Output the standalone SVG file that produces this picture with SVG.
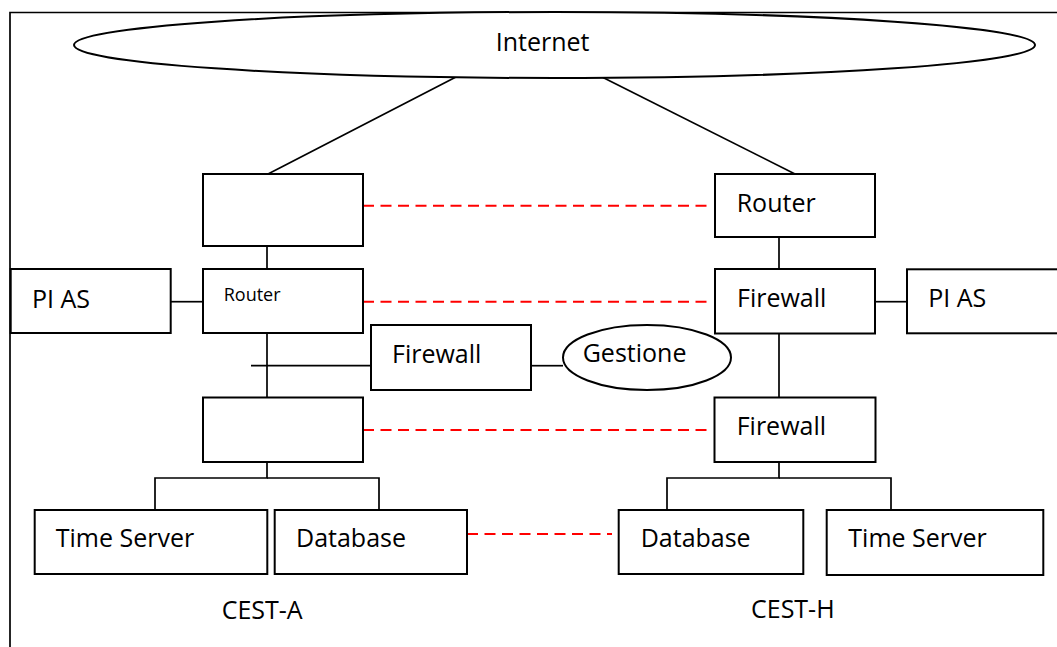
<svg xmlns="http://www.w3.org/2000/svg" width="1057" height="647" viewBox="0 0 1057 647">
  <style>
    .box { fill: #ffffff; stroke: #000000; stroke-width: 2; }
    .link { fill: none; stroke: #000000; stroke-width: 1.7; }
    .peer { fill: none; stroke: #ff0000; stroke-width: 2; stroke-dasharray: 11 6.5; }
    .lbl { font-family: "Open Sans", "Liberation Sans", sans-serif; font-size: 25px; fill: #000000; }
    .small { font-size: 18px; }
  </style>

  <rect width="1057" height="647" fill="#ffffff"/>

  <!-- outer frame (left and top edges visible) -->
  <path id="frame" d="M1060,12.5 H10 V650" class="link"/>

  <!-- connectors -->
  <g id="connectors">
    <!-- uplinks to the Internet -->
    <line class="link" x1="268" y1="174" x2="456" y2="77"/>
    <line class="link" x1="603" y1="77.5" x2="795" y2="174"/>
    <!-- CEST-A chain -->
    <line class="link" x1="267" y1="238" x2="267" y2="269"/>
    <line class="link" x1="171" y1="301.7" x2="203" y2="301.7"/>
    <line class="link" x1="267" y1="333" x2="267" y2="397.5"/>
    <line class="link" x1="251" y1="365.7" x2="371" y2="365.7"/>
    <line class="link" x1="531" y1="365.7" x2="563" y2="365.7"/>
    <polyline class="link" points="267,462 267,478 155,478 155,510"/>
    <polyline class="link" points="267,478 379,478 379,510"/>
    <!-- CEST-H chain -->
    <line class="link" x1="779" y1="237" x2="779" y2="269"/>
    <line class="link" x1="875" y1="301.7" x2="907" y2="301.7"/>
    <line class="link" x1="779" y1="333.5" x2="779" y2="397.5"/>
    <polyline class="link" points="779,462 779,478 667,478 667,510"/>
    <polyline class="link" points="779,478 891,478 891,510"/>
    <!-- site-to-site peering -->
    <line class="peer" x1="363" y1="205.7" x2="710" y2="205.7"/>
    <line class="peer" x1="363" y1="301.7" x2="710" y2="301.7"/>
    <line class="peer" x1="363" y1="430" x2="710" y2="430"/>
    <line class="peer" x1="467" y1="534" x2="612" y2="534"/>
  </g>

  <g id="internet">
    <ellipse class="box" cx="554.5" cy="45" rx="480.5" ry="33"/>
    <text class="lbl" x="495.7" y="50.7">Internet</text>
  </g>

  <!-- CEST-A -->
  <g id="a-edge">
    <rect class="box" x="203" y="174" width="160" height="72"/>
  </g>
  <g id="a-router">
    <rect class="box" x="203" y="269" width="160" height="64"/>
    <text class="lbl small" x="223.7" y="301">Router</text>
  </g>
  <g id="a-pias">
    <rect class="box" x="10.7" y="269" width="160" height="64"/>
    <text class="lbl" x="32" y="307.7">PI AS</text>
  </g>
  <g id="a-firewall">
    <rect class="box" x="371" y="325" width="160" height="65"/>
    <text class="lbl" x="392" y="363">Firewall</text>
  </g>
  <g id="gestione">
    <ellipse class="box" cx="647" cy="357.5" rx="84" ry="32.5"/>
    <text class="lbl" x="582.7" y="362">Gestione</text>
  </g>
  <g id="a-lan">
    <rect class="box" x="203" y="397.5" width="160" height="64.5"/>
  </g>
  <g id="a-timeserver">
    <rect class="box" x="34.7" y="510" width="232.6" height="64"/>
    <text class="lbl" x="55.7" y="547.3">Time Server</text>
  </g>
  <g id="a-database">
    <rect class="box" x="274.7" y="510" width="192.3" height="64"/>
    <text class="lbl" x="296" y="547.3">Database</text>
  </g>
  <g id="a-label">
    <text class="lbl" x="221.7" y="618.7">CEST-A</text>
  </g>

  <!-- CEST-H -->
  <g id="h-router">
    <rect class="box" x="715" y="174" width="160" height="63"/>
    <text class="lbl" x="736.7" y="211.7">Router</text>
  </g>
  <g id="h-firewall-outer">
    <rect class="box" x="715" y="269" width="160" height="64.5"/>
    <text class="lbl" x="737" y="307">Firewall</text>
  </g>
  <g id="h-pias">
    <rect class="box" x="907" y="269.3" width="160" height="64"/>
    <text class="lbl" x="928.3" y="307.3">PI AS</text>
  </g>
  <g id="h-firewall-inner">
    <rect class="box" x="714.5" y="397.5" width="161" height="64.5"/>
    <text class="lbl" x="736.7" y="435">Firewall</text>
  </g>
  <g id="h-database">
    <rect class="box" x="618.7" y="510" width="184.6" height="64"/>
    <text class="lbl" x="640.7" y="547.3">Database</text>
  </g>
  <g id="h-timeserver">
    <rect class="box" x="826.7" y="510" width="216.6" height="65"/>
    <text class="lbl" x="848.3" y="547.3">Time Server</text>
  </g>
  <g id="h-label">
    <text class="lbl" x="751" y="618.3">CEST-H</text>
  </g>
</svg>
